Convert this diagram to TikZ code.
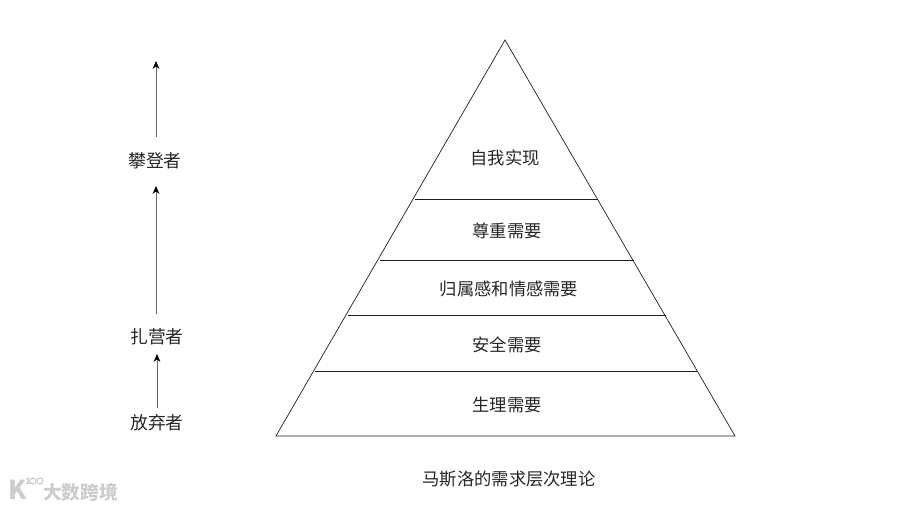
\documentclass[tikz,border=0pt]{standalone}
\usepackage{fontspec}
\usepackage{xcolor}
\usepackage{tikz}
\usetikzlibrary{arrows.meta, positioning}
\newfontfamily\cjk{Noto Sans CJK SC}
\definecolor{linea}{RGB}{30,30,30}
\definecolor{marca}{RGB}{205,205,205}
\tikzset{
  capa/.style={font=\cjk\fontsize{17.3pt}{19pt}\selectfont, text=black!85, inner sep=0pt},
  rol/.style={font=\cjk\fontsize{17.8pt}{19pt}\selectfont, text=black!85, inner sep=0pt},
  borde/.style={draw=linea, line width=0.7pt},
  flecha/.style={-{Stealth[length=2.8mm,width=2.4mm,color=black]}, draw=black!60, line width=0.9pt},
  logo/.style={font=\cjk\bfseries\fontsize{18.7pt}{20pt}\selectfont, text=marca, inner sep=0pt}
}
\begin{document}
\begin{tikzpicture}[x=1pt,y=-1pt]
  \useasboundingbox (0,0) rectangle (900,508);
  % piramide
  \coordinate (cima) at (505,40);
  \coordinate (baseizq) at (276,436);
  \coordinate (baseder) at (735,436);
  \draw[borde] (cima) -- (baseizq) -- (baseder) -- cycle;
  % divisiones
  \coordinate (a1) at (415,199);
  \coordinate (a2) at (598,199);
  \coordinate (b1) at (380,260);
  \coordinate (b2) at (634,260);
  \coordinate (c1) at (348,315);
  \coordinate (c2) at (666,315);
  \coordinate (d1) at (315,371);
  \coordinate (d2) at (697,371);
  \draw[borde] (a1) -- (a2);
  \draw[borde] (b1) -- (b2);
  \draw[borde] (c1) -- (c2);
  \draw[borde] (d1) -- (d2);
  % niveles
  \node[capa] (autor) at (505,158) {自我实现};
  \node[capa] (estima) at (507,231) {尊重需要};
  \node[capa] (social) at (509,289) {归属感和情感需要};
  \node[capa] (segur) at (507,345) {安全需要};
  \node[capa] (fisio) at (507,405) {生理需要};
  \node[capa] (titulo) at (509,479) {马斯洛的需求层次理论};
  % roles
  \node[rol] (climber) at (155,161) {攀登者};
  \node[rol] (camper) at (157,337) {扎营者};
  \node[rol] (quitter) at (157,423) {放弃者};
  \coordinate (tope) at (156,61);
  \coordinate (c0) at (156,137);
  \coordinate (c1t) at (156,314);
  \coordinate (c1h) at (156,186);
  \coordinate (c2t) at (157,408);
  \coordinate (c2h) at (157,354);
  \draw[flecha] (c0) -- (tope);
  \draw[flecha] (c1t) -- (c1h);
  \draw[flecha] (c2t) -- (c2h);
  % marca de agua
  \node[logo, anchor=west] (marca) at (43,492) {大数跨境};
  \node[logo, font=\cjk\bfseries\fontsize{26pt}{26pt}\selectfont] (letrak) at (18,490) {K};
  \node[logo, font=\cjk\bfseries\fontsize{9pt}{9pt}\selectfont] (uno) at (28,481) {1};
  \draw[marca, line width=1.1pt] (33,481) circle (3pt);
  \draw[marca, line width=1.1pt] (40,481) circle (3pt);
\end{tikzpicture}
\end{document}
